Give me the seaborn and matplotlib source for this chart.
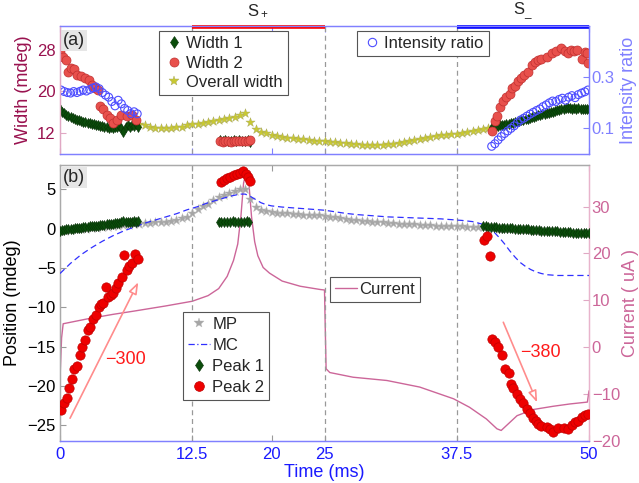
import numpy as np
import matplotlib
matplotlib.use("Agg")
import matplotlib.pyplot as plt
import matplotlib.transforms as mtransforms
from matplotlib.lines import Line2D
import seaborn as sns

# ---------------- data ----------------
# sweep phases marked above panel (a)
phase_lines = [12.5, 25.0, 37.5]
phase_spans = [(12.5, 25.0), (37.5, 50.0)]
phase_labels = [r"$\mathregular{S_+}$", r"$\mathregular{S_\_}$"]
phase_colors = ["#ff0000", "#0000ff"]

x_ticks = [0, 12.5, 20, 25, 37.5, 50]
x_ticklabels = ["0", "12.5", "20", "25", "37.5", "50"]

# panel (a): widths (mdeg)
width1_seg1 = [16.5, 16.1, 15.8, 15.5, 15.3, 15.1, 14.9, 14.7, 14.5, 14.4, 14.2, 14.1, 14.0,
               13.9, 13.8, 13.7, 13.6, 13.5, 13.4, 13.3, 13.3, 13.2, 13.1, 13.0, 13.1, 13.0,
               13.2, 13.1, 13.3, 13.0, 12.2, 13.2, 13.4, 13.1, 13.5, 13.3, 13.6, 13.2]
width1_seg1_span = (0.0, 7.4)
width2_seg1_t = [0.0, 0.3, 0.6, 0.8, 1.0, 1.3, 1.6, 2.0, 2.4, 2.7, 3.0, 3.3, 3.6, 3.8,
                 4.1, 4.4, 4.7, 5.0, 5.35, 5.8, 6.3, 6.8, 7.2]
width2_seg1 = [27.6, 26.7, 26.0, 23.8, 24.5, 24.3, 23.2, 22.9, 22.6, 22.2, 21.3, 20.6, 20.3,
               17.2, 16.5, 15.5, 14.9, 13.9, 14.5, 15.5, 15.2, 15.5, 14.5]

width1_seg2 = [10.6, 10.5, 10.6, 10.5, 10.5, 10.6, 10.5, 10.6, 10.5, 10.4, 10.6, 10.3]
width2_seg2 = [10.4, 10.3, 10.4, 10.4, 10.3, 10.4, 10.4, 10.5, 10.4, 10.5, 10.5, 10.6]
width_seg2_span = (15.1, 18.0)

width1_seg3 = [13.1, 13.2, 13.3, 13.3, 13.4, 13.5, 13.5, 13.6, 13.7, 13.8, 13.9, 14.0, 14.1,
               14.2, 14.4, 14.5, 14.6, 14.7, 14.8, 15.0, 15.1, 15.2, 15.4, 15.5, 15.6, 15.7,
               15.8, 15.9, 16.0, 16.1, 16.2, 16.3, 16.4, 16.5, 16.6, 16.7, 16.8, 16.7, 16.6,
               16.7, 16.6, 16.7, 16.6, 16.5, 16.6, 16.5, 16.6]
width1_seg3_span = (40.8, 50.0)
width2_seg3_t = [40.8, 41.1, 41.3, 41.6, 41.9, 42.2, 42.5, 42.7, 43.0, 43.3, 43.6, 43.9, 44.2,
                 44.6, 44.9, 45.2, 45.5, 46.0, 46.5, 46.9, 47.4, 47.7, 48.0, 48.3, 48.6, 48.9,
                 49.3, 49.6, 49.8, 49.9]
width2_seg3 = [12.3, 14.2, 15.2, 17.0, 18.1, 18.9, 19.4, 20.6, 21.1, 21.9, 22.6, 23.2, 23.8,
               25.1, 25.6, 26.0, 26.2, 26.7, 27.4, 27.7, 28.3, 27.7, 27.4, 27.9, 27.7, 27.9,
               26.2, 27.6, 27.4, 25.4]

overall_width = [13.7, 13.4, 13.2, 13.0, 12.9, 12.9, 13.0, 13.1, 13.2, 13.4, 13.6, 13.7, 13.9,
                 14.1, 14.3, 14.5, 14.7, 14.9, 15.1, 15.5, 15.9, 14.1, 12.8, 12.2, 11.9, 11.6,
                 11.4, 11.2, 11.0, 10.9, 10.8, 10.7, 10.6, 10.5, 10.5, 10.4, 10.3, 10.2, 10.1,
                 10.0, 9.9, 9.8, 9.7, 9.6, 9.6, 9.6, 9.7, 9.8, 9.9, 10.0, 10.2, 10.4, 10.6, 10.8,
                 11.0, 11.2, 11.3, 11.5, 11.6, 11.7, 11.8, 11.9, 12.1, 12.3, 12.5, 12.7, 12.9, 13.1]
overall_width_span = (7.5, 41.0)

ratio_seg1 = [0.250, 0.244, 0.240, 0.238, 0.244, 0.240, 0.245, 0.250, 0.246, 0.252, 0.258,
              0.262, 0.255, 0.240, 0.230, 0.222, 0.205, 0.188, 0.210, 0.196, 0.178, 0.170,
              0.158, 0.165, 0.157]
ratio_seg1_span = (0.1, 7.3)
ratio_seg3 = [0.030, 0.040, 0.055, 0.068, 0.080, 0.090, 0.100, 0.110, 0.122, 0.133, 0.140,
              0.148, 0.156, 0.163, 0.170, 0.176, 0.185, 0.192, 0.200, 0.207, 0.205, 0.213,
              0.218, 0.210, 0.222, 0.228, 0.220, 0.232, 0.238, 0.243, 0.250]
ratio_seg3_span = (40.8, 49.9)

# panel (b): positions (mdeg) and current (uA)
mp_pos = [-0.35, -0.3, -0.2, -0.1, -0.05, 0.0, 0.1, 0.15, 0.2, 0.25, 0.3, 0.4, 0.45, 0.5,
          0.6, 0.65, 0.7, 0.75, 0.8, 0.85, 0.9, 1.0, 1.1, 1.3, 1.5, 2.0, 2.5, 2.9, 3.2, 3.6,
          4.0, 4.3, 4.6, 4.8, 5.0, 5.1, 3.8, 2.8, 2.4, 2.2, 2.1, 2.05, 2.0, 1.95, 1.9, 1.85,
          1.8, 1.8, 1.75, 1.7, 1.65, 1.55, 1.45, 1.35, 1.25, 1.15, 1.1, 1.0, 0.95, 0.9, 0.85,
          0.8, 0.75, 0.7, 0.65, 0.6, 0.6, 0.55, 0.5, 0.5, 0.45, 0.4, 0.4, 0.35, 0.35, 0.3,
          0.3, 0.25, 0.25, 0.2, 0.2, 0.1, 0.05, 0.0, -0.05, -0.1, -0.1, -0.15, -0.2, -0.2,
          -0.25, -0.3, -0.3, -0.35, -0.4, -0.4, -0.45, -0.5, -0.5, -0.55, -0.6]
mp_span = (0.0, 50.0)

mc_t = [0, 1, 2, 3, 4, 5, 6, 7, 8, 9, 10, 11, 12, 13, 14, 15, 16, 16.5, 17, 17.5, 18, 18.5,
        19, 19.5, 20, 21, 22, 23, 24, 25, 26, 27, 28, 29, 30, 31, 32, 33, 34, 35, 36, 37,
        38, 39, 40, 40.5, 41, 41.5, 42, 42.5, 43, 43.5, 44, 44.5, 45, 45.5, 46, 46.5, 47,
        48, 49, 50]
mc_pos = [-5.7, -4.4, -3.3, -2.4, -1.6, -0.9, -0.3, 0.2, 0.7, 1.1, 1.5, 1.9, 2.4, 2.8, 3.3,
          3.7, 4.1, 4.25, 4.4, 4.4, 4.1, 3.7, 3.3, 3.05, 2.9, 2.75, 2.65, 2.55, 2.45, 2.35,
          2.15, 1.95, 1.8, 1.7, 1.6, 1.5, 1.45, 1.4, 1.35, 1.3, 1.25, 1.15, 1.05, 0.9, 0.55,
          0.2, -0.4, -1.1, -1.9, -2.8, -3.6, -4.3, -4.8, -5.2, -5.5, -5.7, -5.85, -5.9, -5.95,
          -5.95, -5.95, -5.95]

peak1_seg1 = [-0.25, -0.2, -0.15, -0.1, -0.1, 0.0, 0.0, 0.05, 0.1, 0.1, 0.15, 0.2, 0.2, 0.25,
              0.3, 0.3, 0.35, 0.4, 0.4, 0.45, 0.5, 0.5, 0.55, 0.6, 0.6, 0.65, 0.7, 0.7, 0.75,
              0.8, 1.0, 0.8, 0.85, 0.9, 0.8, 0.95, 0.9, 0.95]
peak1_seg1_span = (0.0, 7.4)
peak1_seg2 = [0.85, 0.9, 0.9, 0.88, 0.9, 0.92, 0.9, 0.9, 0.88, 0.9, 0.92, 0.9]
peak1_seg2_span = (15.0, 17.9)
peak1_seg3 = [0.35, 0.3, 0.25, 0.25, 0.2, 0.2, 0.15, 0.15, 0.1, 0.1, 0.05, 0.05, 0.0, 0.0,
              -0.05, -0.05, -0.1, -0.1, -0.15, -0.15, -0.2, -0.2, -0.25, -0.25, -0.3, -0.3,
              -0.3, -0.35, -0.35, -0.4, -0.4, -0.4, -0.45, -0.45, -0.5, -0.5, -0.5, -0.55,
              -0.55, -0.6, -0.55]
peak1_seg3_span = (40.0, 50.0)

peak2_t = [0.1, 0.4, 0.64, 0.85, 1.1, 1.3, 1.6, 1.9, 2.1, 2.4, 2.6, 2.85, 3.1, 3.4, 3.7,
           3.9, 4.1, 4.35, 4.57, 4.8, 5.04, 5.3, 5.5, 5.83, 6.05, 6.3, 6.55, 6.77, 7.09, 7.4,
           15.2, 15.5, 15.8, 16.1, 16.4, 16.7, 17.0, 17.3, 17.6, 17.8, 18.0,
           40.1, 40.4, 40.6, 40.8, 41.1, 41.4, 41.8, 42.05, 42.4, 42.6, 42.8, 43.2, 43.5,
           43.8, 44.1, 44.4, 44.7, 45.0, 45.2, 45.5, 46.0, 46.3, 46.6, 47.1, 47.6, 48.0,
           48.4, 48.7, 49.0, 49.3, 49.6, 49.9]
peak2_pos = [-23.1, -22.2, -21.5, -20.3, -19.1, -17.8, -17.4, -16.0, -15.0, -14.1, -12.9,
             -12.5, -11.5, -11.0, -10.0, -9.6, -9.5, -7.4, -8.7, -8.4, -8.2, -7.5, -6.9,
             -6.1, -3.3, -5.2, -4.8, -4.4, -3.2, -3.8,
             6.0, 6.2, 6.4, 6.6, 6.8, 7.0, 7.1, 7.3, 7.0, 6.6, 6.1,
             -1.5, -0.9, -3.5, -14.0, -14.4, -15.0, -16.1, -17.8, -18.4, -19.7, -20.3,
             -21.0, -21.6, -22.2, -22.9, -23.5, -24.1, -24.5, -24.8, -25.1, -25.2, -25.5,
             -25.85, -25.4, -25.3, -25.5, -25.0, -24.6, -24.4, -23.9, -23.7, -23.6]

current_t = [0.0, 0.15, 0.3, 2.5, 5.0, 7.0, 10.0, 12.5, 14.0, 15.0, 15.8, 16.4, 16.8, 17.1,
             17.35, 17.6, 17.85, 18.1, 18.4, 18.7, 19.2, 19.8, 21.0, 22.7, 24.6, 25.0, 25.15,
             25.5, 27.7, 30.9, 34.0, 37.2, 38.7, 40.3, 41.3, 41.7, 42.2, 43.2, 44.7, 46.6,
             48.2, 49.85, 50.0]
current_ua = [-6.8, 2.0, 5.0, 6.0, 7.0, 7.7, 8.8, 9.8, 11.0, 12.5, 15.1, 18.5, 22.0, 27.9,
              35.0, 37.4, 35.0, 27.9, 22.5, 19.5, 17.0, 15.8, 14.1, 13.0, 12.3, 12.2, -4.6,
              -5.4, -6.4, -7.1, -8.5, -11.0, -12.8, -15.3, -17.4, -17.75, -16.7, -14.6,
              -13.3, -12.6, -12.1, -11.7, -9.3]

# drift-rate guides (mdeg/s)
rate_labels = ["\u2212300", "\u2212380"]
rate_arrows = [((0.95, -24.1), (7.4, -6.8)), ((41.9, -11.9), (45.1, -22.1))]
rate_text_pos = [(6.2, -16.6), (45.4, -15.7)]


def span(values, bounds):
    return np.linspace(bounds[0], bounds[1], len(values))


# ---------------- style ----------------
sns.set_style("white")
plt.rcParams["font.family"] = ["Liberation Sans", "DejaVu Sans"]
plt.rcParams["mathtext.fontset"] = "custom"
plt.rcParams["mathtext.rm"] = "Liberation Sans"

C_WIDTH = "#99124f"
C_RATIO = "#8080ff"
C_CURR = "#cc6699"
C_TIME = "#1a1aff"
C_GREEN = "#0b4d0b"
C_RED_A = "#e8504c"
C_RED_B = "#ee0000"
C_YELLOW = "#c8c832"
C_GRAY = "#a6a6a6"
C_MC = "#3030ff"
FS = 12

W, H = 639, 483
fig = plt.figure(figsize=(W / 100, H / 100), dpi=100)


def box(x0, y0, x1, y1):
    return [x0 / W, 1 - y1 / H, (x1 - x0) / W, (y1 - y0) / H]


ax_a = fig.add_axes(box(60, 26, 589, 154))
ax_a2 = ax_a.twinx()
ax_b = fig.add_axes(box(60, 165, 589, 441))
ax_b2 = ax_b.twinx()
ax_b.set_zorder(ax_b2.get_zorder() + 1)
ax_b.patch.set_visible(False)

S_DIAMOND = 26
S_CIRCLE = 42

# ---------------- panel (a) ----------------
for xv in phase_lines:
    ax_a.axvline(xv, color="#999999", lw=0.9, dashes=(4, 3), zorder=1)

sns.scatterplot(x=span(overall_width, overall_width_span), y=overall_width, ax=ax_a,
                marker="*", s=48, color=C_YELLOW, edgecolor="#a8a860", linewidth=0.3,
                zorder=3, legend=False)
for vals, bounds in [(width1_seg1, width1_seg1_span), (width1_seg2, width_seg2_span),
                     (width1_seg3, width1_seg3_span)]:
    sns.scatterplot(x=span(vals, bounds), y=vals, ax=ax_a, marker="d", s=S_DIAMOND,
                    color=C_GREEN, edgecolor="#063006", linewidth=0.4, zorder=4, legend=False)
sns.scatterplot(x=width2_seg1_t, y=width2_seg1, ax=ax_a, marker="o", s=S_CIRCLE,
                color=C_RED_A, edgecolor="#c03030", linewidth=0.5, zorder=5, legend=False)
sns.scatterplot(x=span(width2_seg2, width_seg2_span), y=width2_seg2, ax=ax_a, marker="o",
                s=S_CIRCLE, color=C_RED_A, edgecolor="#c03030", linewidth=0.5, zorder=5,
                legend=False)
sns.scatterplot(x=width2_seg3_t, y=width2_seg3, ax=ax_a, marker="o", s=S_CIRCLE,
                color=C_RED_A, edgecolor="#c03030", linewidth=0.5, zorder=5, legend=False)

for vals, bounds in [(ratio_seg1, ratio_seg1_span), (ratio_seg3, ratio_seg3_span)]:
    sns.scatterplot(x=span(vals, bounds), y=vals, ax=ax_a2, marker="o", s=32,
                    facecolor="none", edgecolor="#4d4dff", linewidth=0.8, legend=False)

ax_a.set_xlim(0, 50)
ax_a.set_ylim(7.9, 32.6)
ax_a2.set_ylim(0, 0.5)
ax_a.set_xticks(x_ticks)
ax_a.set_xticklabels([])
ax_a.set_yticks([12, 20, 28])
ax_a2.set_yticks([0.1, 0.3])
ax_a.tick_params(axis="x", direction="in", length=4, top=True, bottom=True, color=C_RATIO)
ax_a.tick_params(axis="y", direction="in", length=4, labelsize=FS, labelcolor=C_WIDTH,
                 color="#e0a8c4", pad=3)
ax_a2.tick_params(axis="y", direction="in", length=4, labelsize=FS, labelcolor=C_RATIO,
                  color=C_RATIO, pad=2)
ax_a.set_ylabel("Width (mdeg)", fontsize=13, color=C_WIDTH)
ax_a.yaxis.set_label_coords(-0.052, 0.5)
ax_a2.set_ylabel("Intensity ratio", fontsize=13, color=C_RATIO)
ax_a2.yaxis.set_label_coords(1.058, 0.5)
for sp in ["top", "bottom", "right"]:
    ax_a.spines[sp].set_color(C_RATIO)
    ax_a2.spines[sp].set_color(C_RATIO)
ax_a.spines["left"].set_color("#e0a8c4")
ax_a2.spines["left"].set_color("#e0a8c4")
for ax in (ax_a, ax_a2, ax_b, ax_b2):
    for sp in ax.spines.values():
        sp.set_linewidth(0.9)

# sweep phase bars and labels
trans_a = mtransforms.blended_transform_factory(ax_a.transData, ax_a.transAxes)
for (x0, x1), lab, col in zip(phase_spans, phase_labels, phase_colors):
    ax_a.plot([x0, x1], [0.99, 0.99], color=col, lw=2.6, transform=trans_a,
              clip_on=False, solid_capstyle="butt", zorder=10)
    ax_a.text((x0 + x1) / 2, 1.12, lab, transform=trans_a, ha="center", va="center",
              fontsize=12)

ax_a.text(0.006, 0.955, "(a)", transform=ax_a.transAxes, fontsize=13, va="top", ha="left",
          bbox=dict(facecolor="#e6e6e6", edgecolor="none", pad=1.5), zorder=12)

leg_kw = dict(loc="upper left", borderaxespad=0, fancybox=False, framealpha=1,
              edgecolor="#555555", fontsize=FS, borderpad=0.3)
h_w1 = Line2D([], [], ls="none", marker="d", ms=6, color=C_GREEN, mec="#063006", mew=0.4)
h_w2 = Line2D([], [], ls="none", marker="o", ms=6.5, color=C_RED_A, mec="#c03030", mew=0.5)
h_ow = Line2D([], [], ls="none", marker="*", ms=7, color=C_YELLOW, mec="#a8a860", mew=0.3)
h_ir = Line2D([], [], ls="none", marker="o", ms=6, mfc="none", mec="#4d4dff", mew=0.8)
leg1 = ax_a2.legend([h_w1, h_w2, h_ow], ["Width 1", "Width 2", "Overall width"],
                    bbox_to_anchor=(0.187, 0.962), handlelength=1.2, handletextpad=0.15,
                    labelspacing=0.28, **leg_kw)
leg1.get_frame().set_linewidth(0.8)
ax_a2.add_artist(leg1)
leg2 = ax_a2.legend([h_ir], ["Intensity ratio"], bbox_to_anchor=(0.561, 0.962),
                    handlelength=1.2, handletextpad=0.15, **leg_kw)
leg2.get_frame().set_linewidth(0.8)

# ---------------- panel (b) ----------------
for xv in phase_lines:
    ax_b.axvline(xv, color="#999999", lw=0.9, dashes=(4, 3), zorder=1)

sns.lineplot(x=current_t, y=current_ua, ax=ax_b2, color=C_CURR, lw=1.0, sort=False,
             estimator=None, errorbar=None, legend=False)

sns.scatterplot(x=span(mp_pos, mp_span), y=mp_pos, ax=ax_b, marker="*", s=50, color=C_GRAY,
                edgecolor="#b8b8b8", linewidth=0.3, zorder=2, legend=False)
sns.lineplot(x=mc_t, y=mc_pos, ax=ax_b, color=C_MC, lw=0.9, linestyle=(0, (5, 3)),
             sort=False, estimator=None, errorbar=None, legend=False, zorder=3)
for vals, bounds in [(peak1_seg1, peak1_seg1_span), (peak1_seg2, peak1_seg2_span),
                     (peak1_seg3, peak1_seg3_span)]:
    sns.scatterplot(x=span(vals, bounds), y=vals, ax=ax_b, marker="d", s=S_DIAMOND,
                    color=C_GREEN, edgecolor="#063006", linewidth=0.4, zorder=4, legend=False)
sns.scatterplot(x=peak2_t, y=peak2_pos, ax=ax_b, marker="o", s=45, color=C_RED_B,
                edgecolor="#c00000", linewidth=0.5, zorder=5, legend=False)

for (start, end), lab, (tx, ty) in zip(rate_arrows, rate_labels, rate_text_pos):
    ax_b.annotate("", xy=end, xytext=start,
                  arrowprops=dict(arrowstyle="-|>,head_length=0.7,head_width=0.25",
                                  ec="#ff8c8c", fc="white", lw=1.2, shrinkA=0, shrinkB=0),
                  zorder=6)
    ax_b.text(tx, ty, lab, color="#ff1a1a", fontsize=13, ha="center", va="center", zorder=6)

ax_b.set_xlim(0, 50)
ax_b.set_ylim(-27.0, 8.1)
ax_b2.set_ylim(-19.7, 38.85)
ax_b.set_xticks(x_ticks)
ax_b.set_xticklabels(x_ticklabels)
ax_b.set_yticks([-25, -20, -15, -10, -5, 0, 5])
ax_b2.set_yticks([-20, -10, 0, 10, 20, 30])
ax_b.tick_params(axis="x", direction="in", length=4, top=True, bottom=True, labelsize=FS,
                 labelcolor=C_TIME, color="#9a9a9a", pad=4)
ax_b.tick_params(axis="y", direction="in", length=4, labelsize=FS, labelcolor="black",
                 color="#9a9a9a", pad=3)
ax_b2.tick_params(axis="y", direction="in", length=4, labelsize=FS, labelcolor=C_CURR,
                  color="#e0a8c4", pad=2)
ax_b.set_ylabel("Position (mdeg)", fontsize=13, color="black")
ax_b.yaxis.set_label_coords(-0.074, 0.5)
ax_b2.set_ylabel("Current ( uA )", fontsize=13, color=C_CURR)
ax_b2.yaxis.set_label_coords(1.062, 0.5)
ax_b.set_xlabel("Time (ms)", fontsize=13, color=C_TIME)
ax_b.xaxis.set_label_coords(0.5, -0.083)
for ax in (ax_b, ax_b2):
    ax.spines["top"].set_color("#aaaaaa")
    ax.spines["left"].set_color("#aaaaaa")
    ax.spines["bottom"].set_color(C_RATIO)
    ax.spines["right"].set_color("#e8b4cc")

ax_b.text(0.006, 0.985, "(b)", transform=ax_b.transAxes, fontsize=13, va="top", ha="left",
          bbox=dict(facecolor="#e6e6e6", edgecolor="none", pad=1.5), zorder=12)

h_mp = Line2D([], [], ls="none", marker="*", ms=7.5, color=C_GRAY, mec="#b8b8b8", mew=0.3)
h_mc = Line2D([], [], color=C_MC, lw=0.9, ls=(0, (5, 2, 1, 2)))
h_p1 = Line2D([], [], ls="none", marker="d", ms=6, color=C_GREEN, mec="#063006", mew=0.4)
h_p2 = Line2D([], [], ls="none", marker="o", ms=7, color=C_RED_B, mec="#c00000", mew=0.5)
leg3 = ax_b.legend([h_mp, h_mc, h_p1, h_p2], ["MP", "MC", "Peak 1", "Peak 2"],
                   bbox_to_anchor=(0.2325, 0.467), handlelength=1.35, handletextpad=0.1,
                   labelspacing=0.36, **leg_kw)
leg3.get_frame().set_linewidth(0.8)
leg3.set_zorder(20)
h_cu = Line2D([], [], color=C_CURR, lw=1.0)
leg4 = ax_b2.legend([h_cu], ["Current"], bbox_to_anchor=(0.510, 0.594), handlelength=1.35,
                    handletextpad=0.1, **leg_kw)
leg4.get_frame().set_linewidth(0.8)

fig.savefig("out.png", dpi=100)
